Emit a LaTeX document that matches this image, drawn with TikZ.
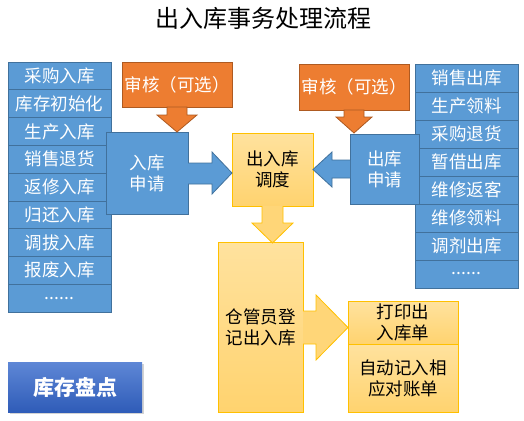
\documentclass[tikz,border=0pt]{standalone}
\usepackage{fontspec}
\setmainfont{Noto Sans CJK SC}
\usetikzlibrary{shadows}
\definecolor{bluefill}{HTML}{5B9BD5}
\definecolor{blueedge}{HTML}{41719C}
\definecolor{orfill}{HTML}{ED7D31}
\definecolor{oredge}{HTML}{AE5A21}
\definecolor{yeltop}{HTML}{FFE29E}
\definecolor{yelbot}{HTML}{FFD36F}
\definecolor{yeledge}{HTML}{FFC000}
\definecolor{btntop}{HTML}{5E87D6}
\definecolor{btnbot}{HTML}{2F5CB8}
\newcommand\sixdots{......}
\begin{document}
\begin{tikzpicture}[x=1pt,y=-1pt,
  txt/.style={font=\fontsize{17.5}{21}\selectfont, align=center, inner sep=0pt},
  listcell/.style={txt, draw=blueedge, fill=bluefill, text=white, line width=0.8pt, minimum width=103pt},
  bluebox/.style={txt, draw=blueedge, fill=bluefill, text=white, line width=0.8pt},
  orbox/.style={txt, draw=oredge, fill=orfill, text=white, line width=0.8pt, minimum width=110pt},
  yelbox/.style={txt, draw=yeledge, top color=yeltop, bottom color=yelbot, text=black, line width=0.8pt},
  bluearrow/.style={draw=blueedge, fill=bluefill, line width=0.8pt},
  orarrow/.style={draw=oredge, fill=orfill, line width=0.8pt},
  yelarrow/.style={draw=yeledge, fill=yelbot!80!yeltop, line width=0.8pt}
]
\useasboundingbox (0,0) rectangle (524,420);

\node[font=\fontsize{24}{28}\selectfont, inner sep=0pt] (title) at (263,18.5) {出入库事务处理流程};

% left list
\foreach \t [count=\i] in {采购入库,库存初始化,生产入库,销售退货,返修入库,归还入库,调拔入库,报废入库,\sixdots}
  \node[listcell, minimum height=27.78pt] (L\i) at (59.5,{62+27.78*(\i-0.5)}) {\t};

% right list
\foreach \t [count=\i] in {销售出库,生产领料,采购退货,暂借出库,维修返客,维修领料,调剂出库,\sixdots}
  \node[listcell, minimum height=28pt] (R\i) at (466.5,{64+28*(\i-0.5)}) {\t};

% audit boxes
\node[orbox, minimum height=45pt] (auditL) at (177,84.5) {审核（可选）};
\node[orbox, minimum height=46pt] (auditR) at (354,87) {审核（可选）};

% request boxes
\node[bluebox, minimum width=82pt, minimum height=82pt] (inreq) at (147,173) {入库\\申请};
\node[bluebox, minimum width=69pt, minimum height=70pt] (outreq) at (384.5,169) {出库\\申请};

% dispatch
\node[yelbox, minimum width=81pt, minimum height=73pt] (sched) at (272.5,169.5) {出入库\\调度};

% keeper
\node[yelbox, minimum width=85pt, minimum height=170pt] (keeper) at (260.5,327) {仓管员登\\记出入库};

% print / ledger
\node[yelbox, minimum width=110pt, minimum height=43pt] (print) at (403,322.5) {打印出\\入库单};
\node[yelbox, minimum width=110pt, minimum height=68pt] (ledger) at (403,378) {自动记入相\\应对账单};

% stock check button
\node[txt, font=\fontsize{21}{24}\selectfont\bfseries, text=white, top color=btntop, bottom color=btnbot,
      drop shadow={shadow xshift=1.5pt, shadow yshift=-1.5pt, opacity=0.35},
      minimum width=134pt, minimum height=50pt] (check) at (75,387) {库存盘点};

% orange down arrows
\draw[orarrow] (167,107) -- (187,107) -- (187,115) -- (197,115) -- (177,132) -- (157,115) -- (167,115) -- cycle;
\draw[orarrow] (344,110) -- (364,110) -- (364,117) -- (372,117) -- (354,133) -- (336,117) -- (344,117) -- cycle;

% blue block arrows
\draw[bluearrow] (188,163) -- (212,163) -- (212,152) -- (232,173) -- (212,194) -- (212,184) -- (188,184);
\draw[bluearrow] (350,160) -- (332,160) -- (332,152) -- (313,169.5) -- (332,187) -- (332,178) -- (350,178);

% yellow arrows
\draw[yelarrow] (262,206) -- (262,223) -- (252,223) -- (272.5,243) -- (293,223) -- (283,223) -- (283,206);
\draw[yelarrow] (303,311) -- (316,311) -- (316,295) -- (348,327.5) -- (316,360) -- (316,344) -- (303,344);

\end{tikzpicture}
\end{document}
